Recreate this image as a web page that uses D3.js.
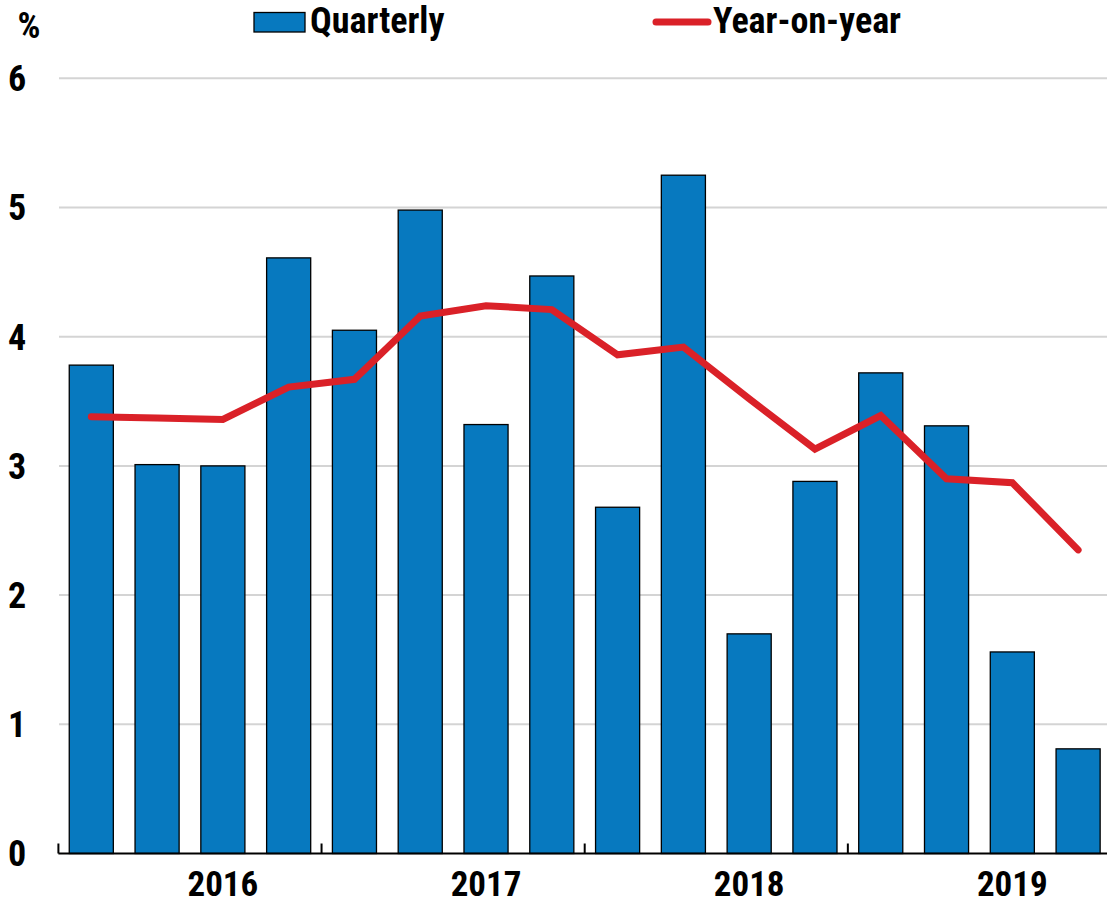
<!DOCTYPE html>
<html>
<head>
<meta charset="utf-8">
<script src="https://cdn.jsdelivr.net/npm/d3@7"></script>
<style>
  html, body { margin: 0; padding: 0; background: #fff; }
  svg { display: block; }
  text { font-family: "Liberation Sans Narrow", "Arial Narrow", "Roboto Condensed", "DejaVu Sans Condensed", sans-serif; font-weight: bold; fill: #000; }
</style>
</head>
<body>
<svg id="chart" width="1107" height="906"></svg>
<script>
// ---- data ----
const quarters = ["2016Q1","2016Q2","2016Q3","2016Q4","2017Q1","2017Q2","2017Q3","2017Q4",
                  "2018Q1","2018Q2","2018Q3","2018Q4","2019Q1","2019Q2","2019Q3","2019Q4"];
const quarterly = [3.78, 3.01, 3.00, 4.61, 4.05, 4.98, 3.32, 4.47, 2.68, 5.25, 1.70, 2.88, 3.72, 3.31, 1.56, 0.81];
const yearOnYear = [3.38, 3.37, 3.36, 3.61, 3.67, 4.16, 4.24, 4.21, 3.86, 3.92, 3.52, 3.13, 3.39, 2.90, 2.87, 2.35];
const years = ["2016", "2017", "2018", "2019"];
const yTicks = [0, 1, 2, 3, 4, 5, 6];

const svg = d3.select("#chart");
const W = 1107;

const x = d3.scaleBand().domain(quarters).range([58.4, 1111]).paddingInner(0.33).paddingOuter(0.165);
const y = d3.scaleLinear().domain([0, 6]).range([853.5, 78.3]);

const blue = "#0779bf", red = "#da2128";

// gridlines
svg.append("g").selectAll("line").data(yTicks.filter(d => d > 0)).join("line")
  .attr("x1", 59).attr("x2", W)
  .attr("y1", d => y(d)).attr("y2", d => y(d))
  .attr("stroke", "#d4d4d4").attr("stroke-width", 2);

// y labels
svg.append("g").selectAll("text").data(yTicks).join("text")
  .attr("x", 17).attr("y", d => y(d)).attr("dy", "0.36em")
  .attr("text-anchor", "middle").attr("font-size", 36)
  .text(d => d);
svg.append("text").attr("x", 29).attr("y", 38).attr("text-anchor", "middle").attr("font-size", 36).text("%");

// bars
svg.append("g").selectAll("rect").data(quarters).join("rect")
  .attr("x", d => x(d)).attr("width", x.bandwidth())
  .attr("y", (d, i) => y(quarterly[i]))
  .attr("height", (d, i) => y(0) - y(quarterly[i]))
  .attr("fill", blue).attr("stroke", "#000").attr("stroke-width", 1.3);

// x axis line + ticks
const step = x.step();
const x0 = x.range()[0];
const axisG = svg.append("g");
axisG.append("line").attr("x1", x0).attr("x2", W).attr("y1", y(0)).attr("y2", y(0))
  .attr("stroke", "#000").attr("stroke-width", 2);
axisG.selectAll("line.tick").data(years).join("line").attr("class", "tick")
  .attr("x1", (d, i) => x(quarters[i * 4]) - (step - x.bandwidth()) / 2)
  .attr("x2", (d, i) => x(quarters[i * 4]) - (step - x.bandwidth()) / 2)
  .attr("y1", y(0)).attr("y2", y(0) - 10)
  .attr("stroke", "#000").attr("stroke-width", 2);
axisG.selectAll("text").data(years).join("text")
  .attr("x", (d, i) => x(quarters[i * 4 + 2]) + x.bandwidth() / 2)
  .attr("y", 896).attr("text-anchor", "middle").attr("font-size", 35)
  .text(d => d);

// line
const line = d3.line()
  .x((d, i) => x(quarters[i]) + x.bandwidth() / 2)
  .y(d => y(d));
svg.append("path").datum(yearOnYear).attr("d", line)
  .attr("fill", "none").attr("stroke", red).attr("stroke-width", 7)
  .attr("stroke-linejoin", "miter").attr("stroke-linecap", "round");

// legend
svg.append("rect").attr("x", 254).attr("y", 12.5).attr("width", 51).attr("height", 19.5)
  .attr("fill", blue).attr("stroke", "#000").attr("stroke-width", 1.3);
svg.append("text").attr("x", 310).attr("y", 33).attr("font-size", 36).text("Quarterly");
svg.append("line").attr("x1", 656).attr("x2", 708).attr("y1", 22).attr("y2", 22)
  .attr("stroke", red).attr("stroke-width", 7).attr("stroke-linecap", "round");
svg.append("text").attr("x", 713).attr("y", 33).attr("font-size", 36).text("Year-on-year");
</script>
</body>
</html>
